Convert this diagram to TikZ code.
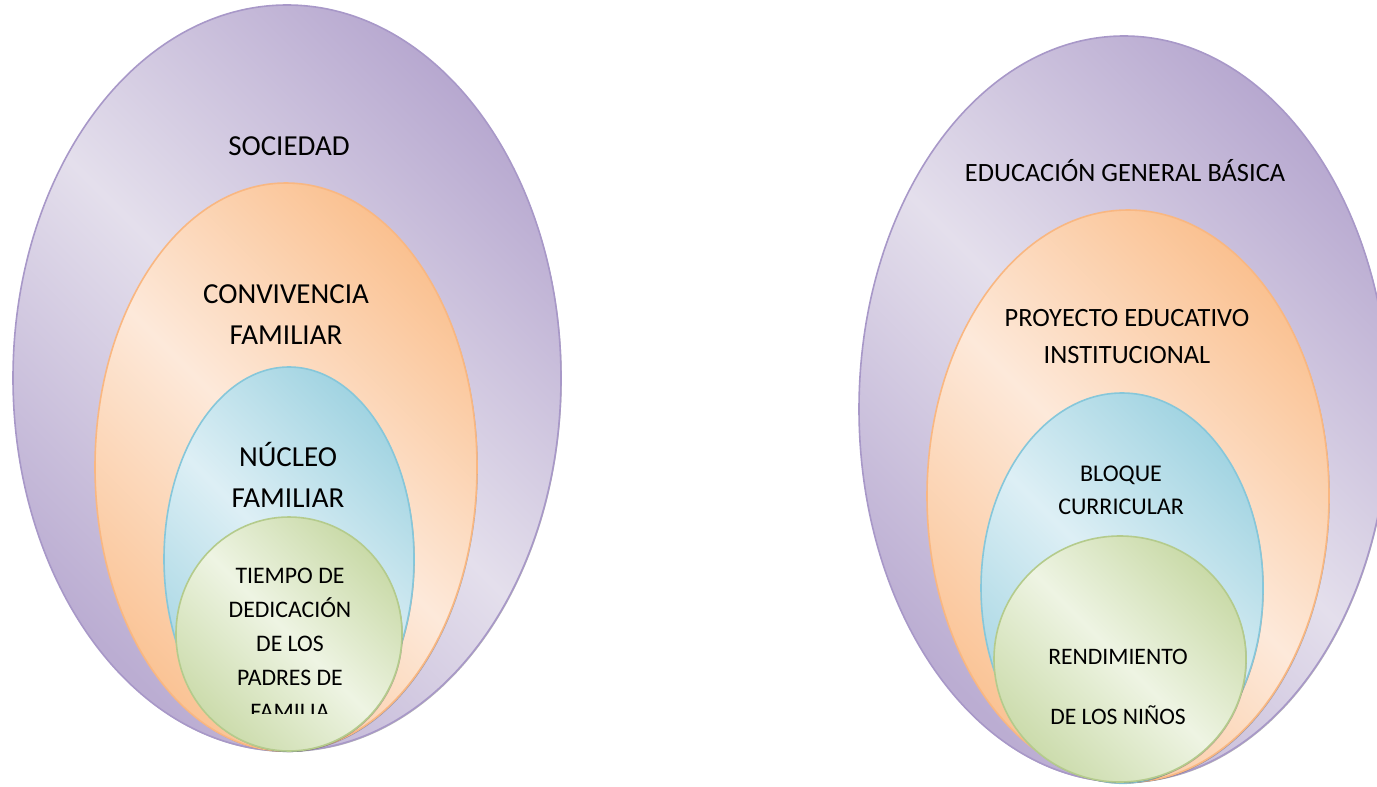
\documentclass[tikz,border=0pt]{standalone}
\usepackage{fontspec}
\setmainfont{Carlito}
\usetikzlibrary{shapes.geometric,shadows}

\definecolor{lilaclaro}{HTML}{E4DFEC}
\definecolor{lilaoscuro}{HTML}{B6A7CF}
\definecolor{lilaborde}{HTML}{A898C8}
\definecolor{naranjaclaro}{HTML}{FDE9DA}
\definecolor{naranjaoscuro}{HTML}{FAC08F}
\definecolor{naranjaborde}{HTML}{F9B781}
\definecolor{azulclaro}{HTML}{DDEFF5}
\definecolor{azuloscuro}{HTML}{A0D3E1}
\definecolor{azulborde}{HTML}{86C7DA}
\definecolor{verdeclaro}{HTML}{EEF4E3}
\definecolor{verdeoscuro}{HTML}{C8D9A6}
\definecolor{verdeborde}{HTML}{B4CB8C}
\colorlet{lilamedio}{lilaoscuro!90!lilaclaro}
\colorlet{naranjamedio}{naranjaoscuro!90!naranjaclaro}
\colorlet{azulmedio}{azuloscuro!90!azulclaro}
\colorlet{verdemedio}{verdeoscuro!90!verdeclaro}

\pgfdeclareverticalshading{sombralila}{100bp}{color(0bp)=(lilamedio); color(25bp)=(lilamedio); color(50bp)=(lilaclaro); color(76bp)=(lilaoscuro); color(100bp)=(lilaoscuro)}
\pgfdeclareverticalshading{sombranaranja}{100bp}{color(0bp)=(naranjamedio); color(25bp)=(naranjamedio); color(50bp)=(naranjaclaro); color(76bp)=(naranjaoscuro); color(100bp)=(naranjaoscuro)}
\pgfdeclareverticalshading{sombraazul}{100bp}{color(0bp)=(azulmedio); color(25bp)=(azulmedio); color(50bp)=(azulclaro); color(76bp)=(azuloscuro); color(100bp)=(azuloscuro)}
\pgfdeclareverticalshading{sombraverde}{100bp}{color(0bp)=(verdemedio); color(25bp)=(verdemedio); color(50bp)=(verdeclaro); color(76bp)=(verdeoscuro); color(100bp)=(verdeoscuro)}

\begin{document}
\begin{tikzpicture}[x=0.75pt,y=-0.75pt]
\tikzstyle{circulo}=[ellipse, inner sep=0pt, line width=1.2pt, drop shadow={shadow xshift=0.6pt, shadow yshift=-0.8pt, fill=black!70, opacity=0.4}]
\tikzstyle{lila}=[circulo, draw=lilaborde, shading=sombralila, shading angle=-45]
\tikzstyle{naranja}=[circulo, draw=naranjaborde, shading=sombranaranja, shading angle=-45]
\tikzstyle{azul}=[circulo, draw=azulborde, shading=sombraazul, shading angle=-45]
\tikzstyle{verde}=[circulo, draw=verdeborde, shading=sombraverde, shading angle=-45]
\tikzstyle{grande}=[align=center, font=\fontsize{21.75}{30.75}\selectfont]
\tikzstyle{mediano}=[align=center, font=\fontsize{19.8}{27.75}\selectfont]
\tikzstyle{chico}=[align=center, font=\fontsize{17.8}{25.5}\selectfont]

\useasboundingbox (0,0) rectangle (1377,786);

% izquierda
\node[lila, minimum width=411pt, minimum height=559.5pt] (soc) at (287,378) {};
\node[naranja, minimum width=286.5pt, minimum height=426pt] (conv) at (286,467) {};
\node[azul, minimum width=187.5pt, minimum height=288pt] (nuc) at (289,559) {};
\node[verde, minimum width=169.5pt, minimum height=175.5pt] (tiem) at (289,634) {};

\node[grande] (soc-t) at (289,146) {SOCIEDAD};
\node[grande] (conv-t) at (286,314.5) {CONVIVENCIA\\FAMILIAR};
\node[grande] (nuc-t) at (288,474.5) {NÚCLEO\\FAMILIAR};
\begin{scope}
\clip (150,500) rectangle (430,713);
\node[chico] (tiem-t) at (290,644) {TIEMPO DE\\DEDICACIÓN\\DE LOS\\PADRES DE\\FAMILIA};
\end{scope}

% derecha
\node[lila, minimum width=397.5pt, minimum height=559.5pt] (egb) at (1124,409) {};
\node[naranja, minimum width=301.5pt, minimum height=429pt] (pei) at (1128,496) {};
\node[azul, minimum width=211.5pt, minimum height=292.5pt] (bloq) at (1122,588) {};
\node[verde, minimum width=189pt, minimum height=184.5pt] (rend) at (1120,659) {};

\node[mediano] (egb-t) at (1125,171) {EDUCACIÓN GENERAL BÁSICA};
\node[mediano] (pei-t) at (1127,337) {PROYECTO EDUCATIVO\\INSTITUCIONAL};
\node[chico, font=\fontsize{18}{25}\selectfont] (bloq-t) at (1121,490.5) {BLOQUE\\CURRICULAR};
\node[chico, font=\fontsize{17.7}{45}\selectfont] (rend-t) at (1118,687) {RENDIMIENTO\\DE LOS NIÑOS};
\end{tikzpicture}
\end{document}
